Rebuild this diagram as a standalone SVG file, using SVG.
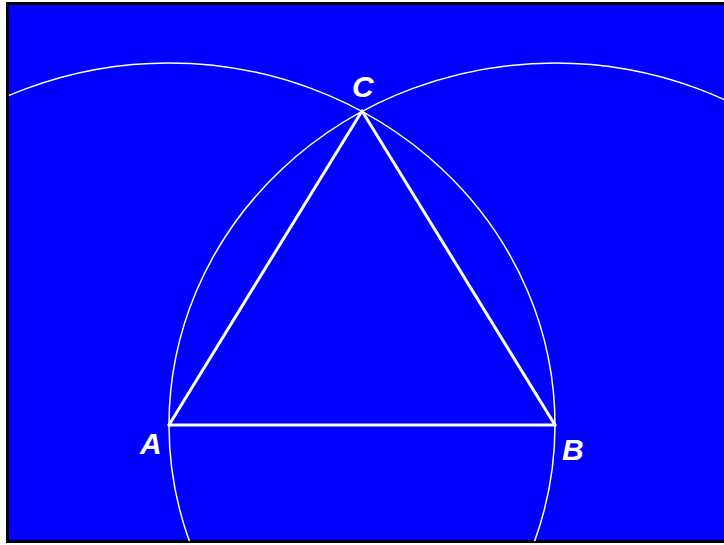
<svg xmlns="http://www.w3.org/2000/svg" width="724" height="545" viewBox="0 0 724 545">
  <defs>
    <style>
      .arc { fill: none; stroke: #ffffff; stroke-width: 1.5; }
      .side { fill: none; stroke: #ffffff; stroke-width: 3; stroke-linecap: round; }
      .lbl { font-family: "Liberation Sans", Arial, sans-serif; font-size: 30px; font-weight: bold; font-style: italic; fill: #ffffff; }
    </style>
    <clipPath id="frame">
      <rect x="9" y="5" width="720" height="536"/>
    </clipPath>
  </defs>
  <rect x="0" y="0" width="724" height="545" fill="#ffffff"/>
  <rect x="7.5" y="3.5" width="730" height="538" fill="#0000ff" stroke="#000000" stroke-width="3"/>
  <g id="connectors" clip-path="url(#frame)">
    <ellipse class="arc" cx="169" cy="425" rx="386" ry="362"/>
    <ellipse class="arc" cx="555" cy="425" rx="386" ry="362"/>
    <line class="side" x1="169" y1="425" x2="555" y2="425"/>
    <line class="side" x1="169" y1="425" x2="362" y2="111"/>
    <line class="side" x1="555" y1="425" x2="362" y2="111"/>
  </g>
  <g id="A"><text class="lbl" x="140" y="454">A</text></g>
  <g id="B"><text class="lbl" x="562" y="460">B</text></g>
  <g id="C"><text class="lbl" x="352" y="97">C</text></g>
</svg>
